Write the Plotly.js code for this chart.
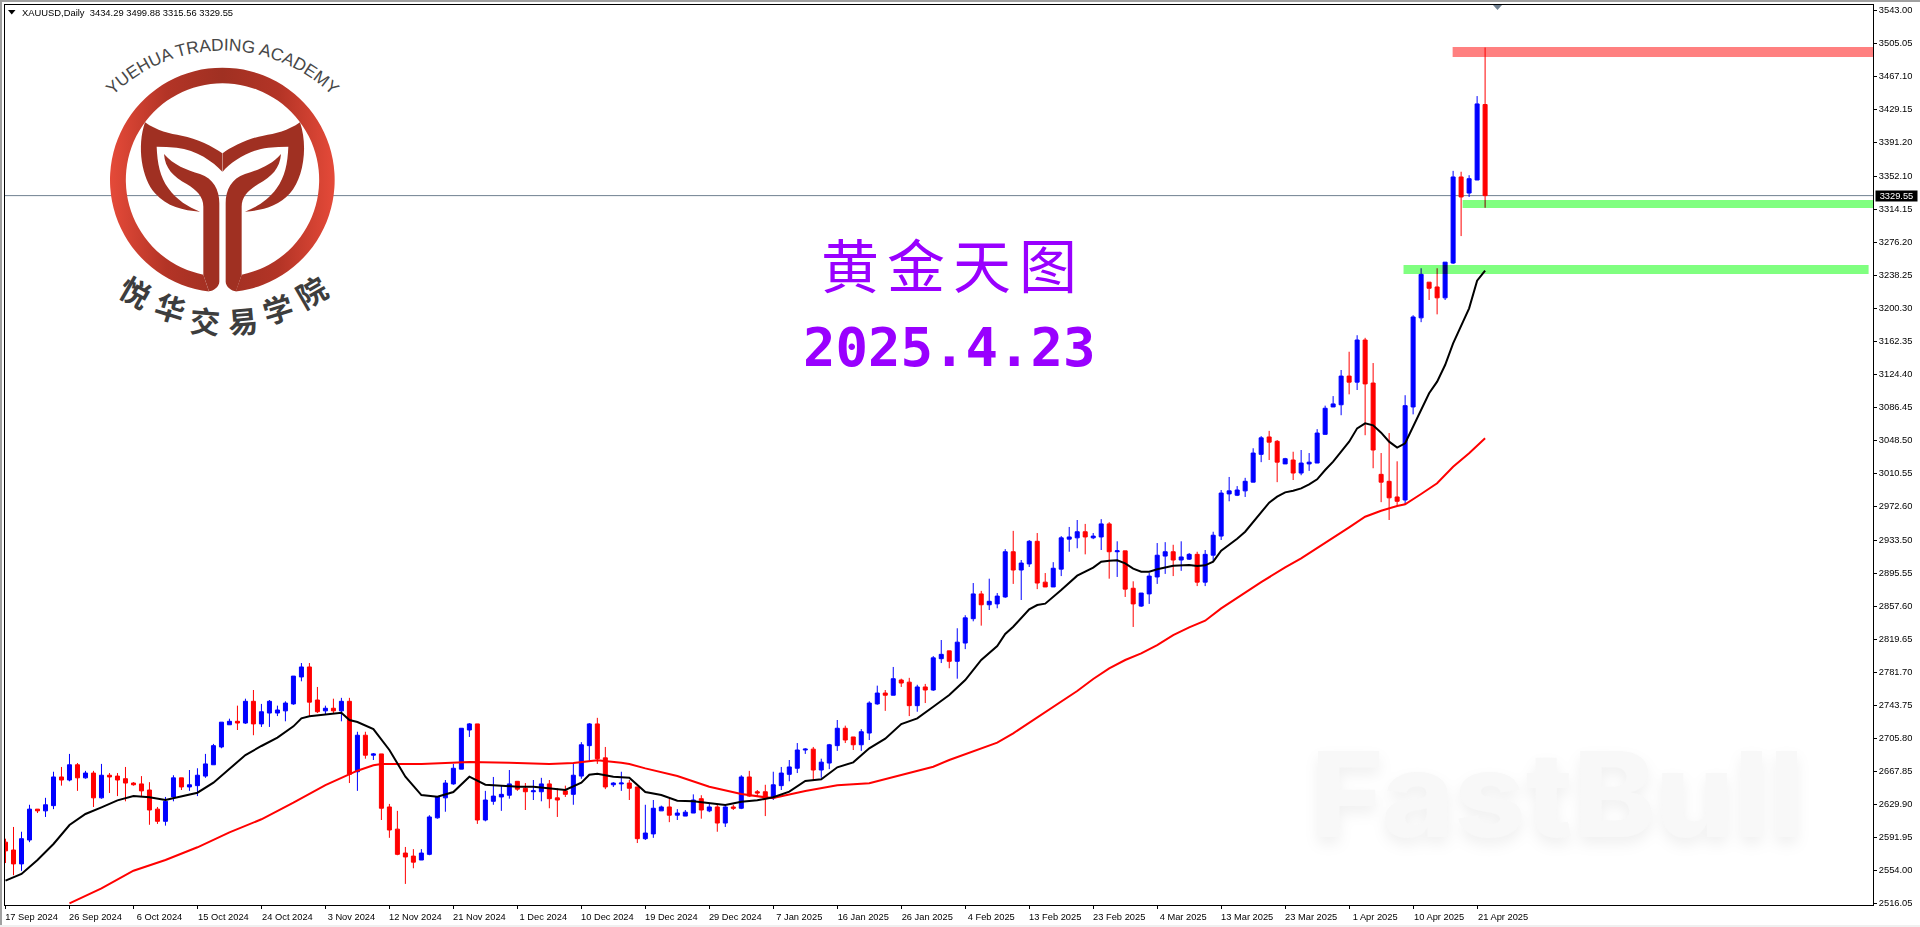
<!DOCTYPE html>
<html><head><meta charset="utf-8">
<script src="https://cdn.plot.ly/plotly-3.0.1.min.js"></script>
<style>
html,body{margin:0;padding:0;background:#fff;width:1920px;height:927px;overflow:hidden}
#wm,#logo{position:absolute;left:0;top:0;pointer-events:none}
#wm{z-index:0}#chart{position:absolute;left:0;top:0;width:1920px;height:927px;z-index:1}#logo{z-index:2}
.chrome{position:absolute;z-index:3}
.annotation-text[data-unformatted="黄金天图"]{letter-spacing:8px}
</style></head><body>
<svg id="wm" width="1920" height="927"><text x="1311" y="837" font-family="Inter" font-weight="800" font-size="118" textLength="493" lengthAdjust="spacingAndGlyphs" fill="#f8f8f8" style="filter:drop-shadow(0 7px 7px #f0f0f0)">FastBull</text></svg>
<div id="chart"></div>
<svg id="logo" width="1920" height="927">
<defs>
<linearGradient id="ring" gradientUnits="userSpaceOnUse" x1="330" y1="0" x2="1004" y2="0">
<stop offset="0" stop-color="#e54a39"/><stop offset=".25" stop-color="#b33426"/><stop offset=".5" stop-color="#a03022"/><stop offset=".75" stop-color="#b33426"/><stop offset="1" stop-color="#e54a39"/></linearGradient>
<path id="arcTop" d="M105,104 A156,156 0 0 1 340,104"/>
<g id="half">
<path fill="#a03022" d="M435,367 C470,392 510,402 545,407 C590,415 640,440 667,460 L667,515 C640,485 590,450 530,443 C510,441 490,440 470,440 C472,490 480,530 505,565 C530,600 565,622 600,635 C550,632 500,620 465,580 C425,535 410,440 435,367 Z"/>
<path fill="#a03022" d="M492,462 C520,495 560,510 600,522 C640,535 658,570 658,610 L658,845 C658,860 640,873 627,874 L610,824 L610,620 C610,590 590,570 560,552 C520,530 495,505 492,462 Z"/>
</g></defs>
<g transform="scale(0.33333)">
<path fill="url(#ring)" d="M627,874.6 A337,337 0 1 1 707,874.6 L725,824 A290,290 0 1 0 610,824 Z"/>
<use href="#half"/><use href="#half" transform="matrix(-1 0 0 1 1335 0)"/>
</g>
<text font-family="Liberation Sans" font-size="17.3" fill="#474747"><textPath href="#arcTop" startOffset="50%" text-anchor="middle">YUEHUA TRADING ACADEMY</textPath></text>
<text font-family="Noto Sans CJK SC" font-weight="700" font-size="30" fill="#3d3d3d" x="116.5 152.5 189.1 229 266.9 304.5" y="295 315.1 331.7 334.3 324.9 310" rotate="30 17 5 -5 -17 -30">悦华交易学院</text>
<path d="M8,10 L15.5,10 L11.75,14.5 Z" fill="#000"/>
<path d="M1493,5 L1502,5 L1497.5,10 Z" fill="#708090"/>
</svg>
<div class="chrome" style="left:0;top:0;width:1920px;height:2px;background:#a0a0a0"></div>
<div class="chrome" style="left:0;top:0;width:2px;height:927px;background:#a0a0a0"></div>
<div class="chrome" style="left:0;top:925px;width:1920px;height:2px;background:#f0f0f0"></div>
<script>
const opens=[2586,2577,2561,2588.5,2624,2622,2628,2661,2657.5,2675,
2660,2665.5,2637,2663,2662,2659,2654,2653,2646,2624,
2610,2638,2660,2649.5,2651,2662,2675,2695.5,2721,2725,
2723,2748,2722,2734.5,2734.5,2737,2745,2776,2787.5,2749.5,
2737,2740,2737,2748,2667,2709,2686,2687.5,2626.5,2601,
2573.5,2570,2565.5,2572,2614,2637,2653,2670,2715,2722,
2611.5,2633,2638,2640,2656,2648,2644,2644,2653,2637,
2645,2641,2662,2697,2722,2683,2652,2653,2654,2649.5,
2590,2595.5,2622,2626.5,2617,2616,2619.5,2636,2622,2626.5,
2608,2626.5,2625,2661,2644,2644,2637,2651,2664,2671,
2692,2693,2669,2677,2697,2717,2707,2698,2711.5,2745,
2757.5,2755,2772.5,2770,2743,2764.5,2761,2797,2806,2794,
2815,2843,2871.5,2859,2860,2868,2920,2899,2906,2932,
2885,2879.5,2900,2934.5,2936,2943,2936,2937,2952,2920,
2921,2878,2857.5,2871.5,2891,2915,2920,2910.5,2911.5,2917,
2885,2916,2938,2986.5,2985,2990,3000,3032,3052,3047,
3021,3025.5,3010.5,3021,3022,3055,3086.5,3089,3122,3115,
3163.5,3114,3009,3001,2983,2979.5,3086.5,3189,3230,3224.5,
3212,3252,3351,3332.5,3347.5,3434.29];
const highs=[2590,2603.5,2598,2629,2624,2637,2667,2672.5,2687.5,2677,
2668,2668,2676,2665.5,2665.5,2672.5,2655,2662,2655,2626.5,
2638,2663,2660,2669,2671,2687.5,2699,2724,2728,2743,
2751,2761,2745,2749.5,2743,2748,2777,2792,2792,2764.5,
2743,2751,2752,2752,2713,2713,2688.5,2687.5,2630,2622,
2580.5,2578,2578,2617,2639,2657.5,2676,2717,2723,2722,
2645,2661,2651,2669,2656,2654,2657.5,2660,2657.5,2648,
2651,2676,2701,2723,2729,2695.5,2655,2667,2657.5,2649.5,
2629,2634.5,2628,2636,2624,2623,2641,2640,2630,2629,
2629,2629,2663,2668,2646,2652,2667,2672.5,2680.5,2700,
2694,2695.5,2682,2699,2726.5,2720,2707,2716,2748,2766,
2761,2787.5,2774,2775,2767,2768,2800,2818.5,2806,2832,
2847,2884,2875,2889,2872.5,2923,2944,2910.5,2933.5,2941.5,
2895.5,2908,2938,2948.5,2956.5,2952,2941.5,2957.5,2954,2932,
2921,2886,2872.5,2895.5,2930,2931,2928,2932,2918.5,2920,
2922,2943,2991,3006,2995.5,3005,3039,3053,3059,3048.5,
3028,3035,3037,3033.5,3061,3088,3099,3129,3150,3169,
3166,3137,3033.5,3056.5,3024,3100,3192,3246,3230,3246,
3253,3358,3357,3353,3444,3499.88];
const lows=[2562,2548,2553,2586,2619.5,2615,2624,2651,2656,2645,
2659,2626.5,2636,2642.5,2639,2633,2651,2639,2606,2607,
2605,2633,2646,2645,2639,2660,2675,2694,2721,2715,
2722,2709,2718.5,2718.5,2731,2725,2744,2771,2731,2734.5,
2733,2734.5,2725,2654,2645,2682,2680.5,2611.5,2591,2571,
2538,2556,2565.5,2571,2613,2621,2652,2670,2707,2607,
2610,2629,2622,2636,2645,2623,2634.5,2633,2625,2615,
2638,2629,2659,2679,2676,2647,2649.5,2645,2634.5,2585,
2588.5,2591,2622,2609,2611.5,2616,2619.5,2613,2620.5,2598,
2603.5,2623,2624,2638,2638,2616,2634.5,2646,2656,2665.5,
2687.5,2657.5,2660,2670,2691,2700,2692,2691,2703.5,2744,
2737,2755,2764.5,2731,2736,2746,2760,2792,2786,2774,
2808,2840,2835,2853,2855,2867,2883,2864.5,2902.5,2877,
2879.5,2879.5,2892,2920,2924,2917,2934.5,2922,2889,2891,
2868,2833.5,2856.5,2860,2883,2894.5,2892,2898,2910.5,2880.5,
2880.5,2909.5,2933.5,2978,2984,2983,3000,3023,3025.5,3000,
3021,3002.5,3008,3013,3022,3055,3086.5,3077,3101,3106,
3054,3016,2977,2956.5,2973,2975,3078,3184,3209.5,3193,
3209.5,3251,3283,3328,3347.5,3315.56];
const closes=[2576,2561,2590,2624,2622,2629,2661,2657.5,2675,2660,
2665.5,2637,2663,2661,2657.5,2654,2652,2645,2623,2610,
2633,2660,2649.5,2652,2663,2676,2697,2724,2725,2723,
2748,2722,2736,2748,2738,2746,2777,2787.5,2747,2736,
2740,2737,2748,2664,2709,2686,2687.5,2625,2600,2572,
2569,2563,2573.5,2615,2638,2654,2671,2717,2722,2611.5,
2634.5,2639,2641,2653,2647,2644,2645,2653,2636,2634.5,
2641,2663,2698,2722,2682,2649.5,2654,2654,2648,2590,
2596.5,2625,2626.5,2617,2619.5,2620.5,2634.5,2623,2626.5,2608,
2626.5,2625,2661,2639,2642.5,2636,2652,2665.5,2672.5,2692,
2693,2669,2678,2698,2717,2703.5,2698,2713,2746,2757.5,
2755,2774,2769,2743,2764.5,2761,2798,2802,2794,2816,
2844,2871.5,2859,2863,2869,2920,2899,2907,2932,2884,
2879.5,2901,2936,2937,2943,2937,2938,2952,2920,2921,
2877,2860,2872.5,2892,2916,2920,2910.5,2914,2917,2885,
2917,2939,2987.5,2990,2991,3001,3033.5,3051,3046,3023,
3027,3010.5,3022,3023,3056.5,3085,3090,3122,3115,3163.5,
3113,3037,3000,2982,2978,3088,3190,3239,3223,3212,
3253,3351,3328,3349,3435,3329.55];

const fastBars=[0,2,4,6,8,10,12,14,16,18,20,22,24,26,28,30,32,34,36,37,38,40,42,43,44,46,48,50,52,54,56,58,60,62,64,66,68,70,72,73,74,76,78,80,82,84,86,88,90,92,94,96,98,100,102,104,106,108,110,112,114,116,118,120,122,124,125,126,128,129,130,132,134,136,137,138,139,140,141,142,143,144,146,148,149,150,151,152,154,155,156,157,158,159,160,161,162,163,164,165,166,167,168,169,170,171,172,173,174,175,176,177,178,179,180,181,182,183,184,185];
const fastMA=[2541.7,2549.4,2565.5,2583.9,2605.7,2618.4,2626.1,2634.1,2639.1,2637.6,2634.5,2638.3,2642.9,2654.4,2670.1,2686.2,2696.6,2706.2,2719.2,2728.4,2730.7,2732.6,2734.9,2726.5,2724.2,2716.1,2692,2661.3,2640.2,2638.3,2643.7,2661.3,2652.1,2651,2649.8,2649.8,2647.9,2646,2654.4,2663.6,2664.8,2661.3,2660.2,2643.7,2640.2,2633.7,2633,2630.7,2628.7,2632.6,2634.1,2637.6,2644.1,2656.3,2658.3,2672.1,2677.8,2693.9,2705,2721.9,2728.4,2741.8,2755.2,2772.5,2795.5,2811.6,2825.4,2833.8,2853.8,2858.7,2860.3,2876,2892.5,2901.7,2908.6,2909.7,2910.1,2906.7,2900.5,2897.1,2897.1,2899.8,2904,2904.7,2903.6,2904.4,2908.6,2921.2,2935,2943,2954.6,2966,2976.5,2983.3,2988.3,2990.2,2992.9,2997.5,3003.3,3014,3023.6,3035,3046.6,3061.9,3067.7,3065.4,3056.9,3046.6,3039.7,3044.7,3063.8,3084.9,3102.2,3115.6,3134.7,3159.7,3180.7,3199.9,3231.7,3243.2];
const slowBars=[8,12,16,20,24,28,32,36,40,44,46,47,52,56,58,63,68,71,74,77,78,80,84,88,92,95,96,100,104,108,112,116,118,120,124,126,128,130,132,134,136,138,140,142,144,146,148,150,152,154,155,157,159,160,162,164,166,168,170,172,174,175,177,179,181,183,185];
const slowMA=[2515.7,2532.9,2553.2,2565.5,2580.1,2597.3,2612.3,2631.4,2651.7,2668.2,2674.4,2675.9,2675.9,2677,2678.2,2677.4,2675.9,2677,2680.1,2677.4,2675.9,2670.9,2662.1,2649.8,2641.4,2637.6,2636.8,2644.8,2651.4,2653.7,2663.2,2672.8,2680.5,2687.4,2700.4,2711.2,2723.5,2735.3,2747.6,2759.8,2773.6,2785.9,2795.5,2803.2,2812.7,2824.2,2833.1,2840.7,2854.9,2866.4,2872.9,2885,2897,2902.1,2912.4,2924,2936.2,2948.1,2960.3,2967.2,2972.6,2974.5,2986.4,2998.7,3017.8,3033.2,3050.4];

const priceTicks=[3543.00,3505.05,3467.10,3429.15,3391.20,3352.10,3314.15,3276.20,3238.25,3200.30,3162.35,3124.40,3086.45,3048.50,3010.55,2972.60,2933.50,2895.55,2857.60,2819.65,2781.70,2743.75,2705.80,2667.85,2629.90,2591.95,2554.00,2516.05];
const dateLabels=['17 Sep 2024','26 Sep 2024','6 Oct 2024','15 Oct 2024','24 Oct 2024','3 Nov 2024','12 Nov 2024','21 Nov 2024','1 Dec 2024','10 Dec 2024','19 Dec 2024','29 Dec 2024','7 Jan 2025','16 Jan 2025','26 Jan 2025','4 Feb 2025','13 Feb 2025','23 Feb 2025','4 Mar 2025','13 Mar 2025','23 Mar 2025','1 Apr 2025','10 Apr 2025','21 Apr 2025'];
const dateBars=[0,8,16,24,32,40,48,56,64,72,80,88,96,104,112,120,128,136,144,152,160,168,176,184];
const lastPrice=3329.55;
const headerText='XAUUSD,Daily  3434.29 3499.88 3315.56 3329.55';
const zoneResistance={x0:180.94,x1:233.5,y0:3488.95,y1:3500.45,color:'#ff8080'};
const zoneSupport1={x0:182.19,x1:233.6,y0:3315.3,y1:3324.5,color:'#80ff80'};
const zoneSupport2={x0:174.8,x1:232.95,y0:3239.4,y1:3249.75,color:'#80ff80'};

const bars=opens.map((_,i)=>i);
const px=x=>(x-5)/1868, py=y=>(905-y)/900;
const tickFont={family:'Liberation Sans',size:9.3,color:'#000'};
const traces=[
 {type:'candlestick',x:bars,open:opens,high:highs,low:lows,close:closes,
  increasing:{line:{color:'#0000ff',width:1},fillcolor:'#0000ff'},
  decreasing:{line:{color:'#ff0000',width:1},fillcolor:'#ff0000'},
  whiskerwidth:0,hoverinfo:'skip',showlegend:false},
 {type:'scatter',mode:'lines',x:slowBars,y:slowMA,line:{color:'#ff0000',width:2},hoverinfo:'skip',showlegend:false},
 {type:'scatter',mode:'lines',x:fastBars,y:fastMA,line:{color:'#000000',width:2},hoverinfo:'skip',showlegend:false}
];
const zone=z=>({type:'rect',layer:'above',xref:'x',yref:'y',x0:z.x0,x1:z.x1,y0:z.y0,y1:z.y1,fillcolor:z.color,line:{width:0}});
const layout={
 width:1920,height:927,paper_bgcolor:'rgba(0,0,0,0)',plot_bgcolor:'rgba(0,0,0,0)',
 margin:{l:5,r:47,t:5,b:22,autoexpand:false},showlegend:false,hovermode:false,boxgap:0.5,boxgroupgap:0,
 xaxis:{type:'linear',range:[-0.0625,233.5],tickmode:'array',tickvals:dateBars,ticktext:dateLabels,ticks:'outside',ticklen:3,tickcolor:'#000',tickwidth:1,
  tickfont:tickFont,ticklabelshift:26,showgrid:false,zeroline:false,showline:true,mirror:true,linecolor:'#000',linewidth:1,rangeslider:{visible:false},tickangle:0},
 yaxis:{side:'right',range:[2513.75,3548.75],tickmode:'array',tickvals:priceTicks,ticktext:priceTicks.map(v=>v.toFixed(2)),ticks:'outside',ticklen:3,tickcolor:'#000',tickwidth:1,
  tickfont:tickFont,showgrid:false,zeroline:false,showline:true,mirror:true,linecolor:'#000',linewidth:1},
 shapes:[
  {type:'line',layer:'below',xref:'paper',yref:'y',x0:0,x1:1,y0:lastPrice,y1:lastPrice,line:{color:'#708090',width:1}},
  zone(zoneResistance),zone(zoneSupport1),zone(zoneSupport2)
 ],
 annotations:[
  {xref:'paper',yref:'paper',x:px(20),y:py(12.5),xanchor:'left',yanchor:'middle',showarrow:false,text:headerText.replace(/  /g,'\u00a0\u00a0'),font:{family:'Liberation Sans',size:9.4,color:'#000'}},
  {xref:'paper',yref:'paper',x:px(953),y:py(263),xanchor:'center',yanchor:'middle',showarrow:false,text:'黄金天图',font:{family:'Noto Sans CJK SC',size:58,color:'#9900ff'}},
  {xref:'paper',yref:'paper',x:px(949),y:py(347),xanchor:'center',yanchor:'middle',showarrow:false,text:'2025.4.23',font:{family:'DejaVu Sans Mono',size:54,color:'#9900ff',weight:700}},
  {xref:'paper',yref:'y',x:1,y:lastPrice,xanchor:'left',yanchor:'middle',xshift:2,showarrow:false,width:41,height:10,bgcolor:'#000',borderpad:0,align:'center',text:lastPrice.toFixed(2),font:{family:'Liberation Sans',size:9.3,color:'#fff'}}
 ]
};
Plotly.newPlot('chart',traces,layout,{displayModeBar:false,staticPlot:true}).then(()=>{
 const upper=document.querySelector('#chart .layer-above');
 if(upper){upper.closest('svg').style.mixBlendMode='multiply';}
});
</script>
</body></html>
